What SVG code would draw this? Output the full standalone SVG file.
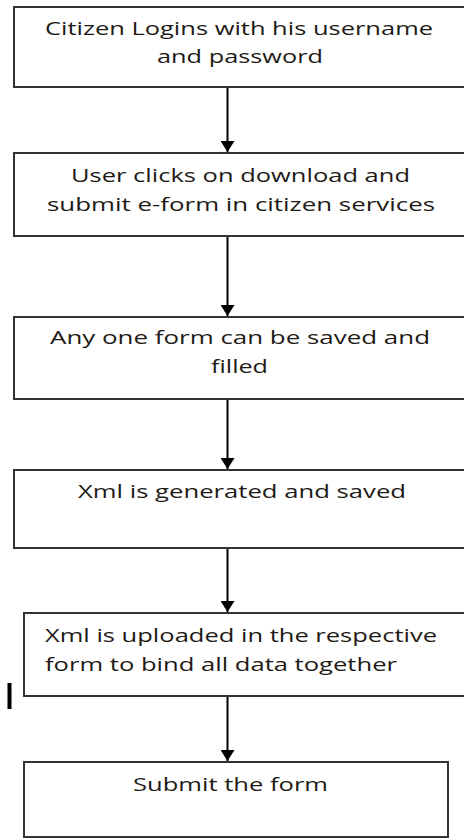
<svg xmlns="http://www.w3.org/2000/svg" width="464" height="838" viewBox="0 0 464 838">
<defs>
<style>
.box{fill:#fff;stroke:#333;stroke-width:2}
.t{font-family:"Open Sans","Liberation Sans",sans-serif;font-size:19px;fill:#1e1a16}
.c{stroke:#000;stroke-width:2;fill:none}
</style>
<marker id="ah" viewBox="0 0 11 14" refX="11" refY="7" markerWidth="11" markerHeight="14" markerUnits="userSpaceOnUse" orient="auto">
<path d="M0,0 L11,7 L0,14 Z" fill="#000"/>
</marker>
</defs>
<rect width="464" height="838" fill="#fff"/>
<g id="connectors">
<line class="c" x1="227.5" y1="87" x2="227.5" y2="152" marker-end="url(#ah)"/>
<line class="c" x1="227.5" y1="236" x2="227.5" y2="316" marker-end="url(#ah)"/>
<line class="c" x1="227.5" y1="399" x2="227.5" y2="469" marker-end="url(#ah)"/>
<line class="c" x1="227.5" y1="548" x2="227.5" y2="612" marker-end="url(#ah)"/>
<line class="c" x1="227.5" y1="696" x2="227.5" y2="761" marker-end="url(#ah)"/>
</g>
<g id="n1">
<rect class="box" x="14" y="7" width="460" height="80"/>
<text class="t" x="45" y="35" textLength="388" lengthAdjust="spacingAndGlyphs">Citizen Logins with his username</text>
<text class="t" x="157" y="63" textLength="166" lengthAdjust="spacingAndGlyphs">and password</text>
</g>
<g id="n2">
<rect class="box" x="14" y="153" width="460" height="83"/>
<text class="t" x="71" y="182" textLength="339" lengthAdjust="spacingAndGlyphs">User clicks on download and</text>
<text class="t" x="47" y="211" textLength="388" lengthAdjust="spacingAndGlyphs">submit e-form in citizen services</text>
</g>
<g id="n3">
<rect class="box" x="14" y="317" width="460" height="82"/>
<text class="t" x="50" y="344" textLength="380" lengthAdjust="spacingAndGlyphs">Any one form can be saved and</text>
<text class="t" x="211" y="373" textLength="57" lengthAdjust="spacingAndGlyphs">filled</text>
</g>
<g id="n4">
<rect class="box" x="14" y="470" width="460" height="78"/>
<text class="t" x="78" y="498" textLength="328" lengthAdjust="spacingAndGlyphs">Xml is generated and saved</text>
</g>
<g id="n5">
<rect class="box" x="24" y="613" width="450" height="83"/>
<text class="t" x="45" y="642" textLength="392" lengthAdjust="spacingAndGlyphs">Xml is uploaded in the respective</text>
<text class="t" x="45" y="671" textLength="352" lengthAdjust="spacingAndGlyphs">form to bind all data together</text>
</g>
<g id="n6">
<rect class="box" x="24" y="762" width="424" height="75"/>
<text class="t" x="133" y="791" textLength="195" lengthAdjust="spacingAndGlyphs">Submit the form</text>
</g>
<rect x="7.5" y="683" width="4" height="26" fill="#000"/>
</svg>
